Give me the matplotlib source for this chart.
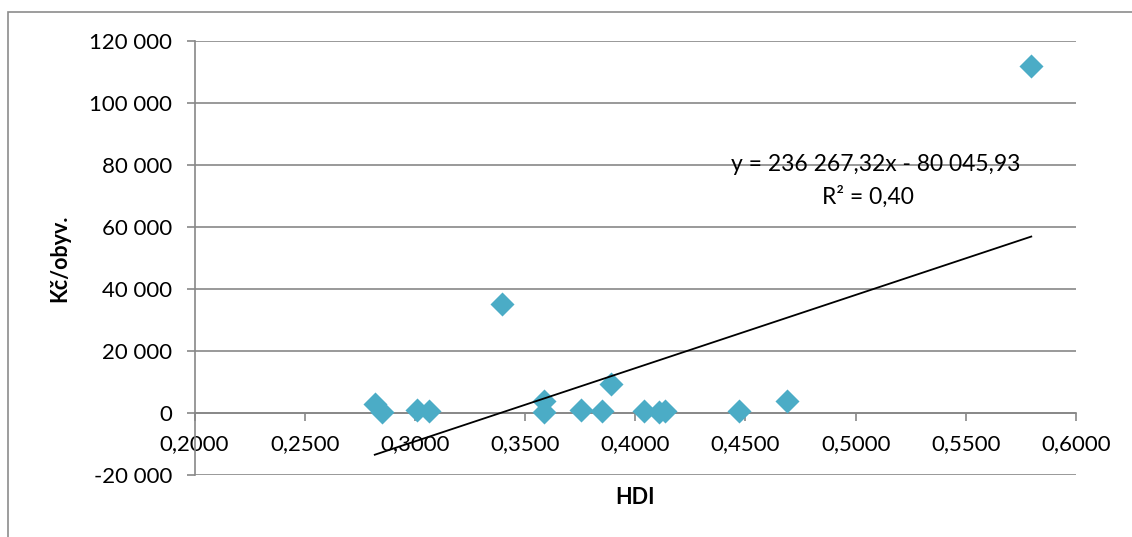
import numpy as np
import matplotlib.pyplot as plt
from matplotlib.ticker import FuncFormatter
from matplotlib.patches import Rectangle

# DATA
###################################
hdi = [0.2818, 0.2853, 0.3010, 0.3065, 0.3394, 0.3584, 0.3584, 0.3755,
       0.3850, 0.3891, 0.4038, 0.4107, 0.4137, 0.4473, 0.4687, 0.5797]
kc_obyv = [2900, 300, 1000, 600, 35200, 3900, 300, 900,
           500, 9500, 500, 300, 500, 600, 4000, 111800]
slope = 236267.32
intercept = -80045.93
r2 = 0.40
x_ticks = [0.20, 0.25, 0.30, 0.35, 0.40, 0.45, 0.50, 0.55, 0.60]
y_ticks = [-20000, 0, 20000, 40000, 60000, 80000, 100000, 120000]

plt.rcParams['font.family'] = ['Lato', 'DejaVu Sans']

fig = plt.figure(figsize=(11.32, 5.37), dpi=100)
ax = fig.add_axes([194.5 / 1132, 1 - 475 / 537, (1076 - 194.5) / 1132, (475 - 41) / 537])

# outer chart border
fig.patches.append(Rectangle((8 / 1132, -0.1), 1.2, 1 - 12 / 537 + 0.1,
                             transform=fig.transFigure, fill=False,
                             edgecolor='#8c8c8c', linewidth=1.2))

grey = '#878787'
for yv in y_ticks:
    ax.axhline(yv, color=grey, linewidth=1.2, zorder=1)

ax.scatter(hdi, kc_obyv, marker='D', s=150, color='#4BACC6', zorder=3,
           linewidths=0)

xs = np.array([min(hdi), max(hdi)])
ax.plot(xs, slope * xs + intercept, color='black', linewidth=1.3, zorder=4)

ax.set_xlim(0.2, 0.6)
ax.set_ylim(-20000, 120000)
ax.set_yticks(y_ticks)
ax.set_xticks(x_ticks)

ax.yaxis.set_major_formatter(FuncFormatter(
    lambda v, p: '{:,.0f}'.format(v).replace(',', ' ')))
ax.xaxis.set_major_formatter(FuncFormatter(
    lambda v, p: '{:.4f}'.format(v).replace('.', ',')))

for s in ['top', 'right']:
    ax.spines[s].set_visible(False)
ax.spines['left'].set_color(grey)
ax.spines['left'].set_linewidth(1.2)
ax.spines['bottom'].set_position(('data', 0))
ax.spines['bottom'].set_color(grey)
ax.spines['bottom'].set_linewidth(1.2)

ax.tick_params(axis='y', direction='out', length=6, color=grey, width=1.2,
               labelsize=16, pad=10)
ax.tick_params(axis='x', direction='out', length=6, color=grey, width=1.2,
               labelsize=16, pad=9)

ax.set_ylabel('Kč/obyv.', fontsize=15.5, fontweight='bold', labelpad=14)
fig.text(635 / 1132, 1 - 497 / 537, 'HDI', fontsize=15.5, fontweight='bold',
         ha='center', va='center')

ax.text(0.5092, 80200, 'y = 236 267,32x - 80 045,93', fontsize=16.5,
        ha='center', va='center', zorder=5)
ax.text(0.5056, 69800, 'R² = 0,40', fontsize=16.5, ha='center', va='center',
        zorder=5)

fig.savefig('out.png', dpi=100)
